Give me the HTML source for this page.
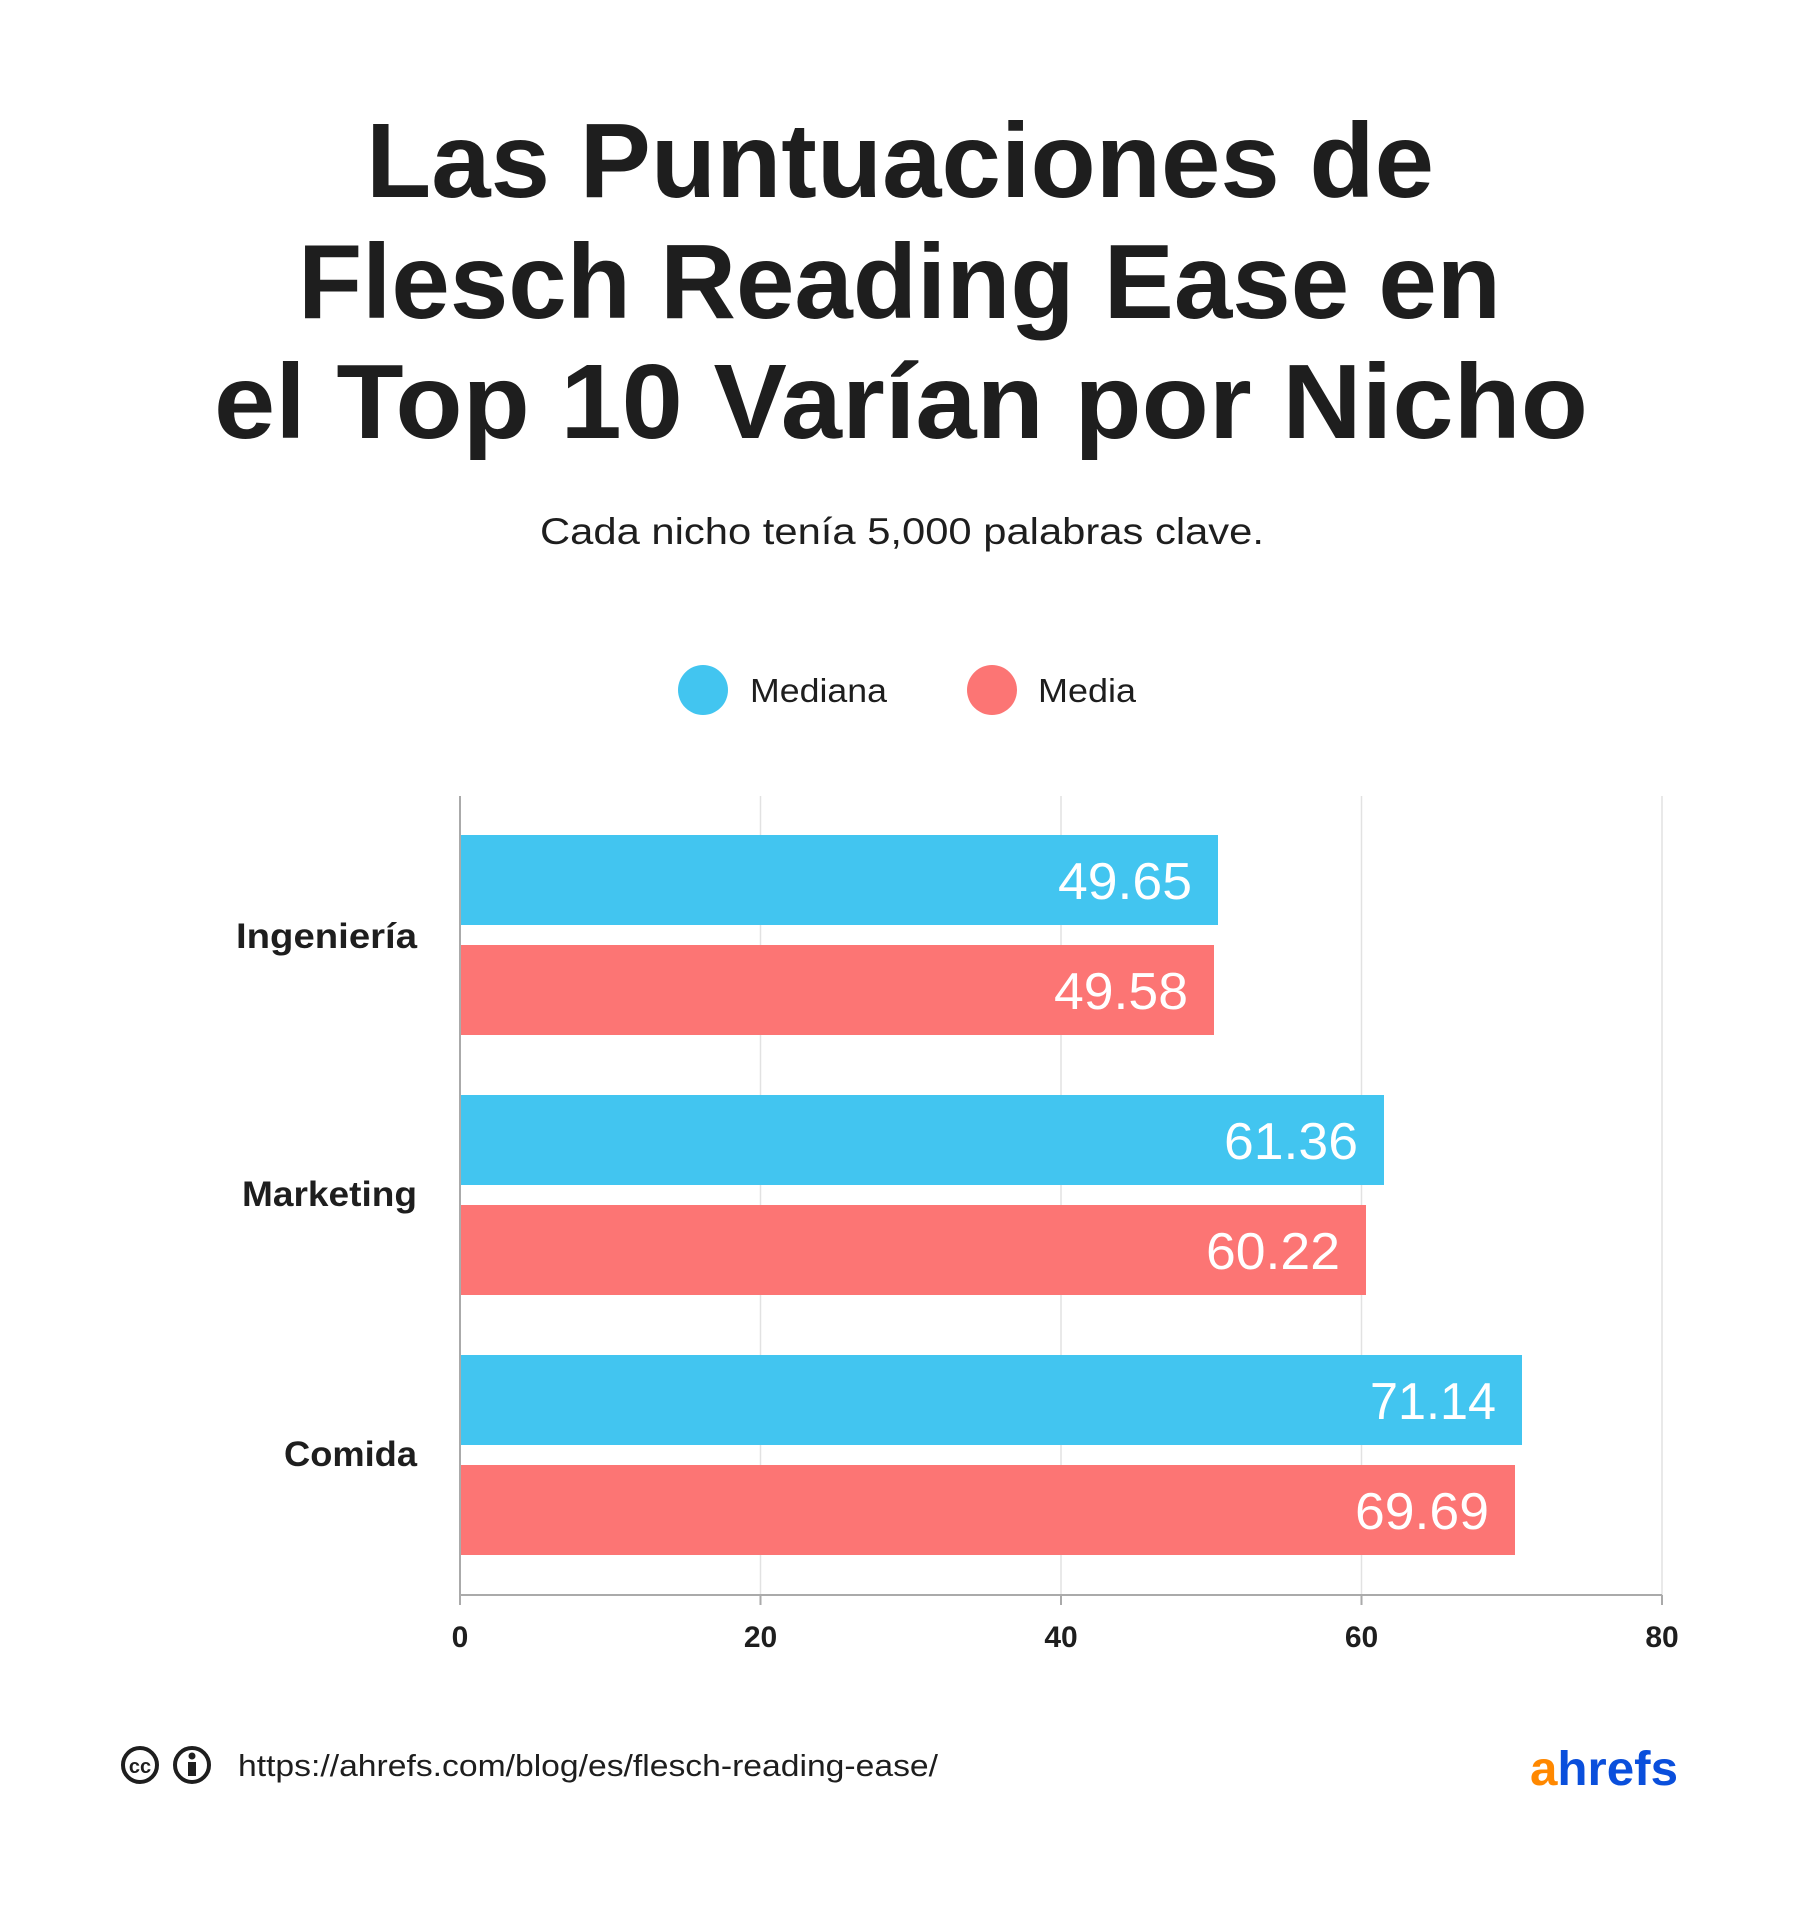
<!DOCTYPE html>
<html><head><meta charset="utf-8"><style>
html,body{margin:0;padding:0;background:#fff;}
svg{display:block;}
</style></head><body>
<svg width="1800" height="1905" viewBox="0 0 1800 1905" xmlns="http://www.w3.org/2000/svg" font-family="Liberation Sans, DejaVu Sans, sans-serif">
<rect width="1800" height="1905" fill="#fff"/>
<g fill="#1e1e1e" font-weight="bold" font-size="106">
<text x="366" y="197" textLength="1068" lengthAdjust="spacingAndGlyphs">Las Puntuaciones de</text>
<text x="298" y="318" textLength="1203" lengthAdjust="spacingAndGlyphs">Flesch Reading Ease en</text>
<text x="214" y="438" textLength="1374" lengthAdjust="spacingAndGlyphs">el Top 10 Varían por Nicho</text>
</g>
<text x="540" y="544" font-size="37" fill="#1e1e1e" textLength="724" lengthAdjust="spacingAndGlyphs">Cada nicho tenía 5,000 palabras clave.</text>
<circle cx="703" cy="690" r="25" fill="#42c5f0"/>
<text x="750" y="702" font-size="33" fill="#1e1e1e" textLength="137" lengthAdjust="spacingAndGlyphs">Mediana</text>
<circle cx="992" cy="690" r="25" fill="#fc7574"/>
<text x="1038" y="702" font-size="33" fill="#1e1e1e" textLength="98" lengthAdjust="spacingAndGlyphs">Media</text>
<g stroke="#e2e2e2" stroke-width="1.5">
<line x1="760.5" y1="796" x2="760.5" y2="1595"/>
<line x1="1061" y1="796" x2="1061" y2="1595"/>
<line x1="1361.5" y1="796" x2="1361.5" y2="1595"/>
<line x1="1662" y1="796" x2="1662" y2="1595"/>
</g>
<g fill="#42c5f0">
<rect x="460" y="835" width="758" height="90"/>
<rect x="460" y="1095" width="924" height="90"/>
<rect x="460" y="1355" width="1062" height="90"/>
</g>
<g fill="#fc7574">
<rect x="460" y="945" width="754" height="90"/>
<rect x="460" y="1205" width="906" height="90"/>
<rect x="460" y="1465" width="1055" height="90"/>
</g>
<line x1="460" y1="796" x2="460" y2="1605" stroke="#aaa" stroke-width="2"/>
<line x1="460" y1="1595" x2="1662" y2="1595" stroke="#aaa" stroke-width="2"/>
<g stroke="#aaa" stroke-width="2">
<line x1="760.5" y1="1595" x2="760.5" y2="1605"/>
<line x1="1061" y1="1595" x2="1061" y2="1605"/>
<line x1="1361.5" y1="1595" x2="1361.5" y2="1605"/>
<line x1="1662" y1="1595" x2="1662" y2="1605"/>
</g>
<g fill="#fff" font-size="52">
<text x="1058" y="899" textLength="134" lengthAdjust="spacingAndGlyphs">49.65</text>
<text x="1054" y="1009" textLength="134" lengthAdjust="spacingAndGlyphs">49.58</text>
<text x="1224" y="1159" textLength="134" lengthAdjust="spacingAndGlyphs">61.36</text>
<text x="1206" y="1269" textLength="134" lengthAdjust="spacingAndGlyphs">60.22</text>
<text x="1370" y="1419" textLength="126" lengthAdjust="spacingAndGlyphs">71.14</text>
<text x="1355" y="1529" textLength="134" lengthAdjust="spacingAndGlyphs">69.69</text>
</g>
<g fill="#1e1e1e" font-size="35" font-weight="bold">
<text x="236" y="948" textLength="181" lengthAdjust="spacingAndGlyphs">Ingeniería</text>
<text x="242" y="1206" textLength="175" lengthAdjust="spacingAndGlyphs">Marketing</text>
<text x="284" y="1466" textLength="133" lengthAdjust="spacingAndGlyphs">Comida</text>
</g>
<g fill="#1e1e1e" font-size="30" font-weight="bold" text-anchor="middle">
<text x="460" y="1647">0</text>
<text x="760.5" y="1647">20</text>
<text x="1061" y="1647">40</text>
<text x="1361.5" y="1647">60</text>
<text x="1662" y="1647">80</text>
</g>
<circle cx="140" cy="1765" r="17" fill="none" stroke="#1e1e1e" stroke-width="4"/>
<text x="140" y="1773" font-size="20" font-weight="bold" fill="#1e1e1e" text-anchor="middle">cc</text>
<circle cx="192" cy="1765" r="17" fill="none" stroke="#1e1e1e" stroke-width="4"/>
<circle cx="192" cy="1756" r="3.5" fill="#1e1e1e"/>
<rect x="188" y="1762" width="8" height="14" fill="#1e1e1e"/>
<text x="238" y="1776" font-size="31" fill="#1e1e1e" textLength="700" lengthAdjust="spacingAndGlyphs">https://ahrefs.com/blog/es/flesch-reading-ease/</text>
<text x="1530" y="1785" font-size="48" font-weight="bold" textLength="148" lengthAdjust="spacingAndGlyphs"><tspan fill="#ff8800">a</tspan><tspan fill="#0a4fdc">hrefs</tspan></text>
</svg>
</body></html>
